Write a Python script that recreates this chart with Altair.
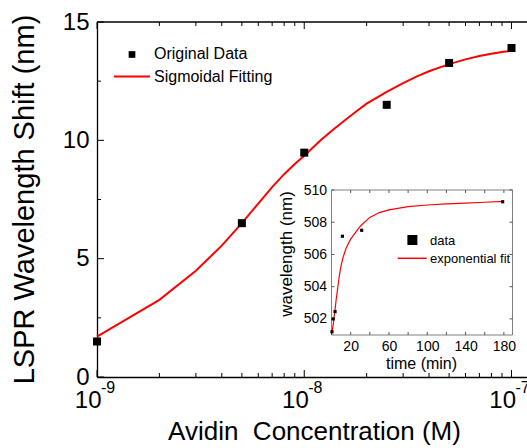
import altair as alt
import pandas as pd

# ---- Main panel: LSPR wavelength shift vs. avidin concentration ----
conc_M = [1e-9, 5e-9, 1e-8, 2.5e-8, 5e-8, 1e-7]
shift_nm = [1.50, 6.50, 9.48, 11.50, 13.27, 13.90]

fit_conc_M = [1e-9, 2e-9, 3e-9, 4e-9, 5e-9, 6e-9, 7e-9, 8e-9, 9e-9, 1e-8,
              1.2e-8, 1.4e-8, 1.6e-8, 1.8e-8, 2e-8, 2.5e-8, 3e-8, 3.5e-8,
              4e-8, 5e-8, 6e-8, 7e-8, 8e-8, 9e-8, 1e-7]
fit_shift_nm = [1.71, 3.26, 4.49, 5.55, 6.50, 7.33, 8.02, 8.57, 9.00, 9.35,
                10.00, 10.50, 10.90, 11.25, 11.55, 12.05, 12.42, 12.70,
                12.92, 13.22, 13.42, 13.56, 13.66, 13.73, 13.78]

main_series = ["Original Data", "Sigmoidal Fitting"]

x_major = [1e-9, 1e-8, 1e-7]
x_exponents = ["-9", "-8", "-7"]
x_minor = [2e-9, 3e-9, 4e-9, 5e-9, 6e-9, 7e-9, 8e-9, 9e-9,
           2e-8, 3e-8, 4e-8, 5e-8, 6e-8, 7e-8, 8e-8, 9e-8]
y_major = [0, 5, 10, 15]
y_minor = [2.5, 7.5, 12.5]

# ---- Inset: binding kinetics ----
time_min = [0.5, 1.7, 3.7, 11.4, 31.5, 178.7]
wavelength_nm = [501.2, 502.0, 502.45, 507.13, 507.5, 509.27]

fit_time_min = [0, 1, 2, 3, 4, 5, 6, 8, 10, 12, 15, 20, 25, 30, 40, 50, 60,
                80, 100, 120, 140, 160, 180]
fit_wavelength_nm = [501.0, 501.35, 501.75, 502.25, 502.75, 503.25, 503.7,
                     504.6, 505.3, 505.8, 506.35, 506.95, 507.35, 507.75,
                     508.3, 508.6, 508.77, 508.97, 509.07, 509.14, 509.19,
                     509.24, 509.29]

inset_series = ["data", "exponential fit"]
t_ticks = [20, 40, 60, 80, 100, 120, 140, 160, 180]
t_labels = [20, 60, 100, 140, 180]
w_ticks = [502, 504, 506, 508, 510]

W, H = 430, 355
FONT = "Liberation Sans"
RED = "#ff0000"

# Every layer gets its own scale; the explicit domains/ranges keep the
# main-panel layers aligned and place the inset inside the plot.
def sx():
    return alt.Scale(type="log", domain=[1e-9, 1.188e-7], nice=False)


def sy():
    return alt.Scale(domain=[0, 15], nice=False, zero=False)


def ix():
    return alt.Scale(domain=[0, 189], range=[234.5, 415.5], nice=False, zero=False)


def iy():
    return alt.Scale(domain=[501, 510], range=[313, 168], nice=False, zero=False)


x_axis = alt.Axis(
    orient="bottom", values=x_major, labelExpr="'10'", ticks=False, tickSize=0,
    domain=True, domainColor="black", domainWidth=1.3, grid=False,
    labelFontSize=24, labelAlign="right", labelOffset=4, labelBaseline="alphabetic",
    labelPadding=30, labelFlush=False, labelOverlap=False, labelBound=False,
    title="Avidin\u00a0 Concentration (M)", titleFontSize=26, titleX=217,
    titleY=62, titleBaseline="alphabetic", titleAlign="center",
)
y_axis = alt.Axis(
    orient="left", values=y_major, ticks=False, tickSize=0, domain=True,
    domainColor="black", domainWidth=1.3, grid=False, labelFontSize=24,
    labelPadding=8, labelFlush=False, labelOverlap=False,
    title="LSPR Wavelength Shift (nm)", titleFontSize=29, titleAngle=270,
    titleX=-64, titleY=177, titleBaseline="alphabetic", titleAlign="center",
)

fit_df = pd.DataFrame({"c": fit_conc_M, "s": fit_shift_nm})
pts_df = pd.DataFrame({"c": conc_M, "s": shift_nm})

fit_line = alt.Chart(fit_df).mark_line(color=RED, strokeWidth=2).encode(
    x=alt.X("c:Q", scale=sx(), axis=x_axis),
    y=alt.Y("s:Q", scale=sy(), axis=y_axis),
)
points = alt.Chart(pts_df).mark_square(size=64, color="black", opacity=1).encode(
    x=alt.X("c:Q", scale=sx(), axis=None),
    y=alt.Y("s:Q", scale=sy(), axis=None),
)


def vticks(vals, scale, y0, y1, color="black"):
    return alt.Chart(pd.DataFrame({"v": vals})).mark_rule(
        color=color, strokeWidth=1
    ).encode(x=alt.X("v:Q", scale=scale, axis=None),
             y=alt.value(y0), y2=alt.value(y1))


def hticks(vals, scale, x0, x1, color="black"):
    return alt.Chart(pd.DataFrame({"v": vals})).mark_rule(
        color=color, strokeWidth=1
    ).encode(y=alt.Y("v:Q", scale=scale, axis=None),
             x=alt.value(x0), x2=alt.value(x1))


def label(text, x, y, size):
    return alt.Chart(pd.DataFrame({"name": [text]})).mark_text(
        align="left", baseline="middle", fontSize=size, font=FONT, color="black"
    ).encode(x=alt.value(x), y=alt.value(y), text="name:N")


top_edge = alt.Chart(pd.DataFrame({"k": [0]})).mark_rule(
    color="black", strokeWidth=1.3
).encode(x=alt.value(0), x2=alt.value(W), y=alt.value(0))

exponents = alt.Chart(pd.DataFrame({"v": x_major, "e": x_exponents})).mark_text(
    align="left", baseline="alphabetic", fontSize=16, font=FONT, dx=4, color="black"
).encode(x=alt.X("v:Q", scale=sx(), axis=None), y=alt.value(H + 16), text="e:N")

leg_sq = alt.Chart(pd.DataFrame({"k": [0]})).mark_square(
    size=45, color="black", opacity=1
).encode(x=alt.value(35), y=alt.value(32.5))
leg_ln = alt.Chart(pd.DataFrame({"k": [0]})).mark_rule(
    color=RED, strokeWidth=2
).encode(x=alt.value(17), x2=alt.value(53), y=alt.value(54.5))

# ---- inset layers ----
ix_axis = alt.Axis(
    orient="bottom", offset=-42, values=t_labels, ticks=False, tickSize=0,
    domain=False, grid=False, labelFontSize=14, labelPadding=15,
    labelBaseline="alphabetic", labelFlush=False, labelOverlap=False,
    title="time (min)", titleFontSize=16, titleX=324, titleY=33,
    titleBaseline="alphabetic", titleAlign="center",
)
iy_axis = alt.Axis(
    orient="left", offset=-234.5, values=w_ticks, ticks=False, tickSize=0,
    domain=False, grid=False, labelFontSize=14, labelPadding=5,
    labelFlush=False, labelOverlap=False,
    title="wavelength (nm)", titleFontSize=17, titleAngle=270, titleX=-40.5,
    titleY=231.5, titleBaseline="alphabetic", titleAlign="center",
)

frame = alt.Chart(pd.DataFrame({"t0": [0], "t1": [189], "w0": [501], "w1": [510]})).mark_rect(
    fill="white", stroke="#808080", strokeWidth=1
).encode(
    x=alt.X("t0:Q", scale=ix(), axis=ix_axis), x2="t1:Q",
    y=alt.Y("w0:Q", scale=iy(), axis=iy_axis), y2="w1:Q",
)
ifit = alt.Chart(pd.DataFrame({"t": fit_time_min, "w": fit_wavelength_nm})).mark_line(
    color=RED, strokeWidth=1.2
).encode(x=alt.X("t:Q", scale=ix(), axis=None), y=alt.Y("w:Q", scale=iy(), axis=None))
ipts = alt.Chart(pd.DataFrame({"t": time_min, "w": wavelength_nm})).mark_square(
    size=10, color="black", opacity=1
).encode(x=alt.X("t:Q", scale=ix(), axis=None), y=alt.Y("w:Q", scale=iy(), axis=None))

ileg_sq = alt.Chart(pd.DataFrame({"k": [0]})).mark_square(
    size=100, color="black", opacity=1
).encode(x=alt.value(315.4), y=alt.value(218))
ileg_ln = alt.Chart(pd.DataFrame({"k": [0]})).mark_rule(
    color=RED, strokeWidth=1.5
).encode(x=alt.value(300.7), x2=alt.value(329.7), y=alt.value(236.3))

layers = [
    fit_line, points, top_edge,
    vticks(x_major, sx(), H, H - 7), vticks(x_minor, sx(), H, H - 4),
    vticks(x_major, sx(), 0, 7), vticks(x_minor, sx(), 0, 4),
    hticks(y_major, sy(), 0, 7), hticks(y_minor, sy(), 0, 4),
    exponents, leg_sq, leg_ln,
    label(main_series[0], 57, 32, 16), label(main_series[1], 57, 54.5, 16),
    frame,
    vticks(t_ticks, ix(), 313, 310, "#555555"), vticks(t_ticks, ix(), 168, 171, "#555555"),
    hticks(w_ticks, iy(), 234.5, 237.5, "#555555"), hticks(w_ticks, iy(), 415.5, 412.5, "#555555"),
    ifit, ipts, ileg_sq, ileg_ln,
    label(inset_series[0], 333, 219, 13), label(inset_series[1], 333, 237.3, 13),
]

chart = alt.layer(*layers).resolve_scale(
    x="independent", y="independent"
).properties(
    width=W, height=H,
    autosize=alt.AutoSizeParams(type="none"),
    padding={"left": 97, "top": 22, "right": 0, "bottom": 71},
).configure_view(
    stroke="transparent"
).configure_axis(
    labelFont=FONT, titleFont=FONT, labelColor="black", titleColor="black",
    titleFontWeight="normal",
)

chart.save("out.html", embed_options={"renderer": "svg", "actions": False})
